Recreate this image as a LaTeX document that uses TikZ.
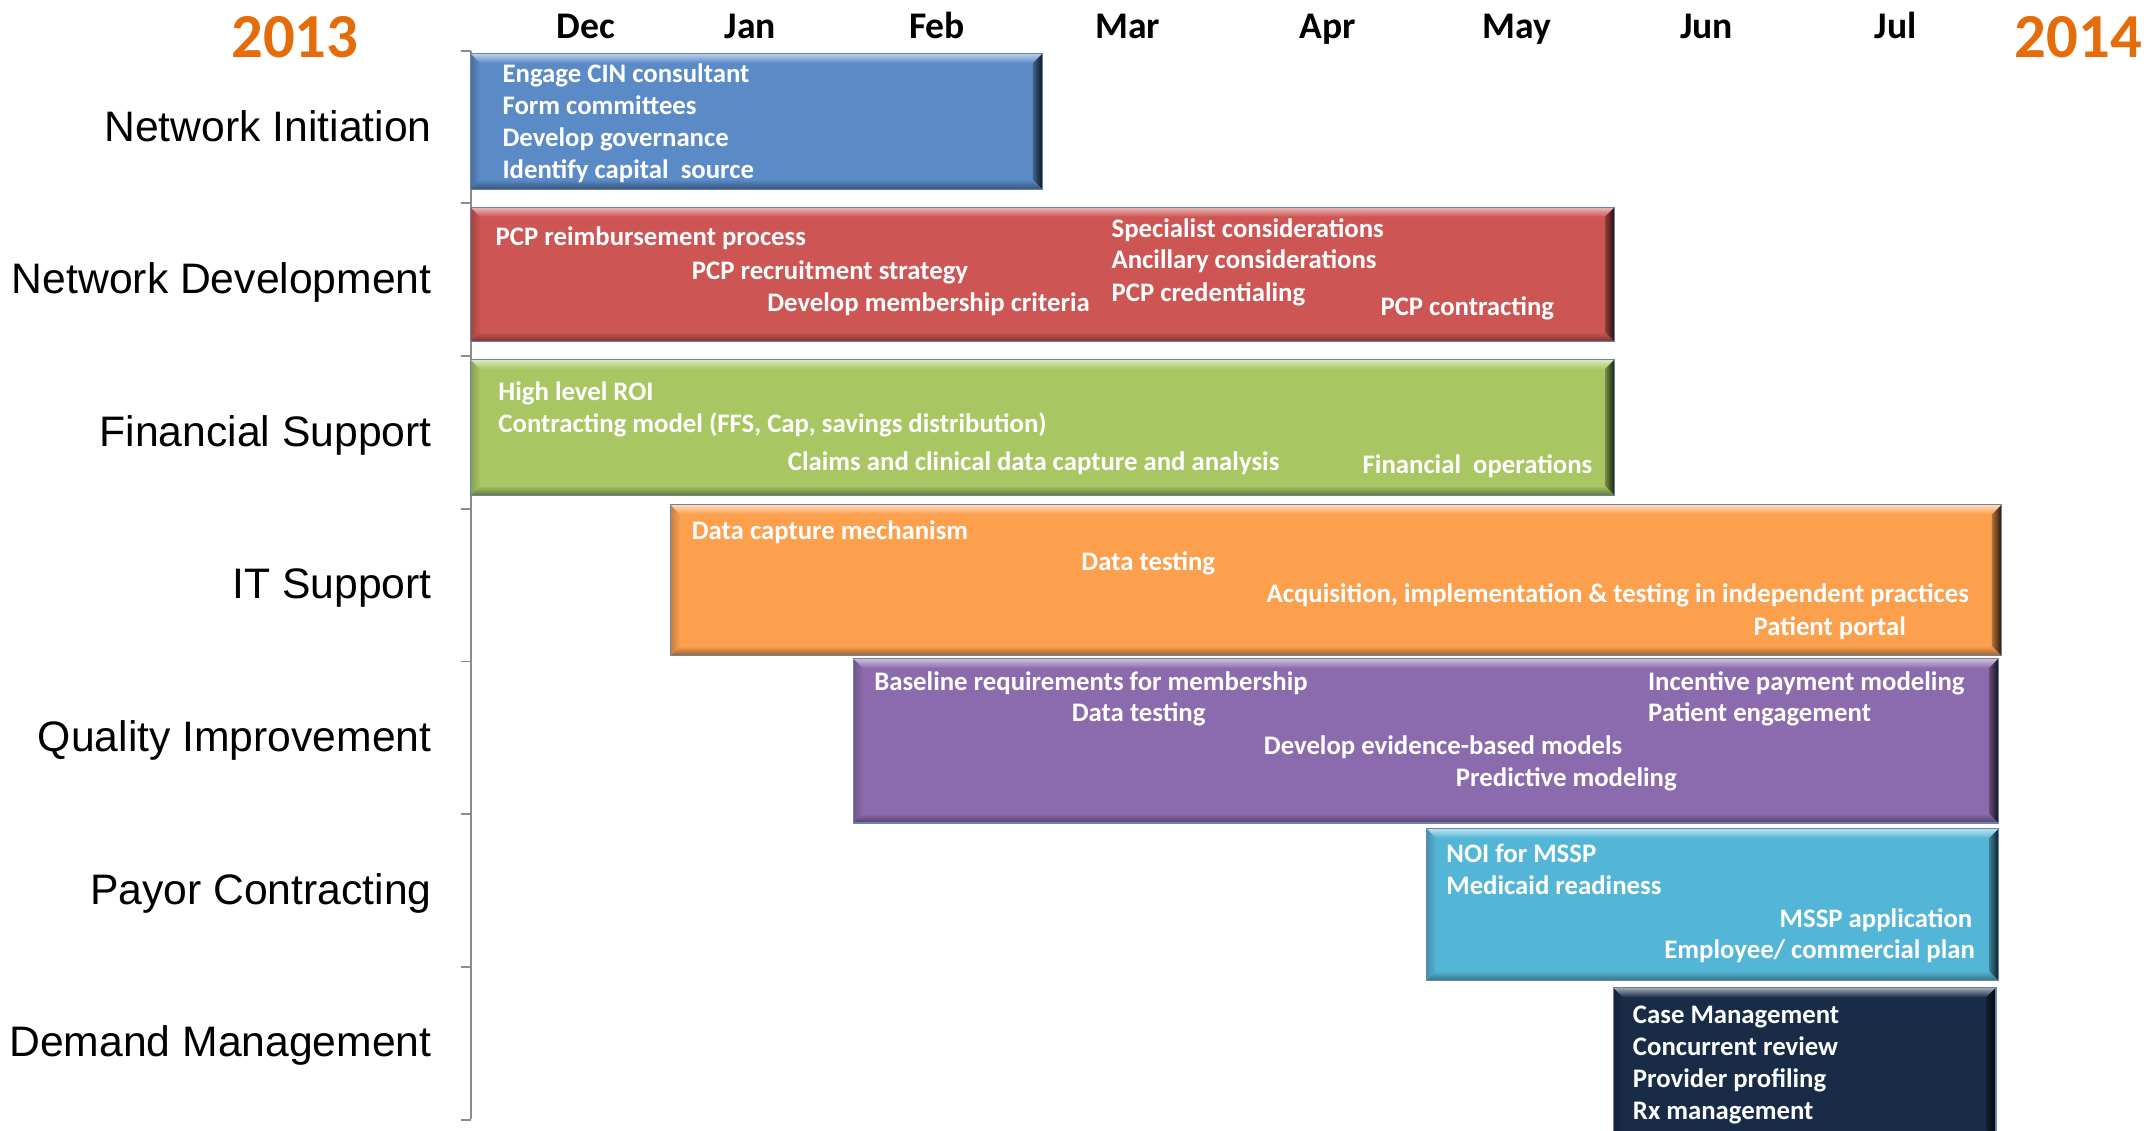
\documentclass[tikz,border=0pt]{standalone}
\usepackage{fontspec}
\setmainfont{Liberation Sans}
\newfontfamily\calibri{Carlito}
\usepackage{xcolor}

\definecolor{yearorange}{HTML}{E46C0A}
\definecolor{niblue}{HTML}{5A8BC7}
\definecolor{ndred}{HTML}{CD5654}
\definecolor{fsgreen}{HTML}{A8C763}
\definecolor{itorange}{HTML}{FCA04E}
\definecolor{qipurple}{HTML}{8B6BAD}
\definecolor{pccyan}{HTML}{53B6D6}
\definecolor{dmnavy}{HTML}{182B47}
\definecolor{axisgray}{HTML}{8C8C8C}
\definecolor{barline}{HTML}{6A84A6}

% bevelled bar: x1, y1, x2, y2, colour
\newcommand\ganttbar[5]{%
  \fill[#5] (#1,#2) rectangle (#3,#4);
  \shade[left color=#5!80!black, right color=#5] (#1,#2) -- (#1+7,#2+7) -- (#1+7,#4-7) -- (#1,#4) -- cycle;
  \shade[top color=#5!40!white, bottom color=#5] (#1,#2) -- (#3,#2) -- (#3-7,#2+7) -- (#1+7,#2+7) -- cycle;
  \shade[top color=#5, bottom color=#5!60!black] (#1,#4) -- (#3,#4) -- (#3-7,#4-7) -- (#1+7,#4-7) -- cycle;
  \shade[left color=#5!70!black, right color=#5!15!black] (#3,#2) -- (#3,#4) -- (#3-7,#4-7) -- (#3-7,#2+7) -- cycle;
  \draw[barline, line width=.5pt] (#1,#2) rectangle (#3,#4);
}

\begin{document}
\begin{tikzpicture}
  [x=.2mm,y=-.2mm,every node/.style={inner sep=0pt},
   lane/.style={anchor=base east,font=\fontsize{17.7}{20}\selectfont},
   month/.style={anchor=base,font=\calibri\bfseries\fontsize{15.6}{18}\selectfont},
   year/.style={anchor=base,text=yearorange,font=\calibri\bfseries\fontsize{26}{30}\selectfont},
   task/.style={anchor=base west,text=white,font=\calibri\bfseries\fontsize{11.1}{13}\selectfont},
   taskr/.style={task,anchor=base east}]
  \useasboundingbox (0,0) rectangle (1568,824);

  \node[year] (y2013) at (215,42) {2013};
  \node[year] (y2014) at (1515,42) {2014};
  \foreach \m/\x in {Dec/427,Jan/547,Feb/683,Mar/822,Apr/968,May/1106,Jun/1244,Jul/1382}
    \node[month] (\m) at (\x,28) {\m};

  \foreach \n/\t [count=\i] in {initiation/Network Initiation,development/Network Development,
      financial/Financial Support,it/IT Support,quality/Quality Improvement,
      payor/Payor Contracting,demand/Demand Management}
    \node[lane] (\n) at (315,{103+111.2*(\i-1)}) {\t};

  \draw[axisgray,line width=.8pt] (343,37) -- (343,816);
  \foreach \i in {0,...,7}
    \draw[axisgray,line width=.8pt] (336,{37+111.3*\i}) -- (343,{37+111.3*\i});

  \ganttbar{343}{39}{760}{138}{niblue}
  \ganttbar{343}{151}{1177}{249}{ndred}
  \ganttbar{343}{262}{1177}{361}{fsgreen}
  \ganttbar{489}{368}{1459}{478}{itorange}
  \ganttbar{622}{480}{1457}{600}{qipurple}
  \ganttbar{1040}{604}{1457}{715}{pccyan}
  \ganttbar{1176}{720}{1455}{832}{dmnavy}

  \foreach \t [count=\i] in {Engage CIN consultant,Form committees,Develop governance,Identify capital\ \ source}
    \node[task] (ni\i) at (366,{60+23.4*(\i-1)}) {\t};

  \node[task] (reimb) at (361,179) {PCP reimbursement process};
  \node[task] (recruit) at (504,204) {PCP recruitment strategy};
  \node[task] (criteria) at (559,227) {Develop membership criteria};
  \node[task] (special) at (810,173) {Specialist considerations};
  \node[task] (ancill) at (810,196) {Ancillary considerations};
  \node[task] (cred) at (810,220) {PCP credentialing};
  \node[task] (pcpcon) at (1006,230) {PCP contracting};

  \node[task] (roi) at (363,292) {High level ROI};
  \node[task] (model) at (363,315) {Contracting model (FFS, Cap, savings distribution)};
  \node[task] (claims) at (574,343) {Claims and clinical data capture and analysis};
  \node[task] (finops) at (993,345) {Financial\ \ operations};

  \node[task] (capture) at (504,393) {Data capture mechanism};
  \node[task] (ittest) at (788,416) {Data testing};
  \node[task] (acq) at (923,439) {Acquisition, implementation \& testing in independent practices};
  \node[task] (portal) at (1278,463) {Patient portal};

  \node[task] (baseline) at (637,503) {Baseline requirements for membership};
  \node[task] (qitest) at (781,526) {Data testing};
  \node[task] (evidence) at (921,550) {Develop evidence-based models};
  \node[task] (predict) at (1061,573) {Predictive modeling};
  \node[task] (incent) at (1201,503) {Incentive payment modeling};
  \node[task] (engage) at (1201,526) {Patient engagement};

  \node[task] (noi) at (1054,629) {NOI for MSSP};
  \node[task] (medicaid) at (1054,652) {Medicaid readiness};
  \node[taskr] (mssp) at (1438,676) {MSSP application};
  \node[taskr] (employee) at (1440,699) {Employee/ commercial plan};

  \foreach \t [count=\i] in {Case Management,Concurrent review,Provider profiling,Rx management}
    \node[task] (dm\i) at (1190,{746+23.4*(\i-1)}) {\t};
\end{tikzpicture}
\end{document}
